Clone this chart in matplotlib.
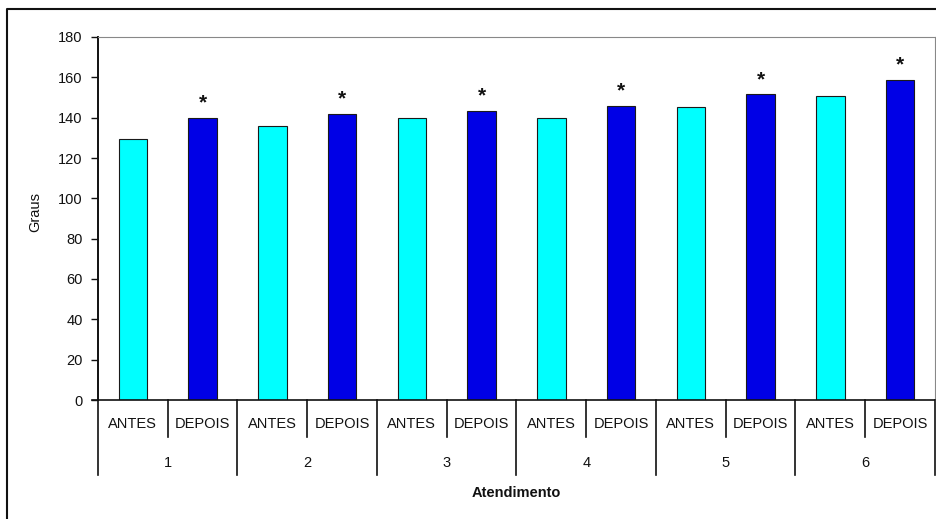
import matplotlib
matplotlib.use("Agg")
import matplotlib.pyplot as plt
import matplotlib.transforms as mtransforms
from matplotlib.lines import Line2D

plt.rcParams['font.family'] = ['Liberation Sans', 'DejaVu Sans']

# data
atendimentos = ['1', '2', '3', '4', '5', '6']
momentos = ['ANTES', 'DEPOIS']
antes = [129.5, 136, 140, 140, 145.5, 150.5]
depois = [140, 142, 143.5, 146, 151.5, 158.5]
significativo = [True, True, True, True, True, True]

W, H = 937, 519
fig = plt.figure(figsize=(W / 100, H / 100), dpi=100)
ax = fig.add_axes([98 / W, 1 - 400 / H, (935 - 98) / W, 363 / H])

# bars: alternating antes / depois
pos_antes = [2 * i for i in range(len(atendimentos))]
pos_depois = [2 * i + 1 for i in range(len(atendimentos))]
ax.bar(pos_antes, antes, width=0.41, color='#00FFFF', edgecolor='#1a1a1a', linewidth=0.8, zorder=2)
ax.bar(pos_depois, depois, width=0.41, color='#0000E6', edgecolor='#1a1a1a', linewidth=0.8, zorder=2)

for p, v, s in zip(pos_depois, depois, significativo):
    if s:
        ax.annotate('*', (p, v), xytext=(0, 4), textcoords='offset points',
                    ha='center', va='bottom', fontsize=15, fontweight='bold', color='#111111')

ax.set_xlim(-0.5, 2 * len(atendimentos) - 0.5)
ax.set_ylim(0, 180)
ax.set_yticks(range(0, 181, 20))
ax.tick_params(axis='y', direction='out', length=5, width=1, labelsize=10.5, colors='#111111', pad=6)
ax.set_xticks([])

ax.spines['left'].set_color('#111111')
ax.spines['bottom'].set_color('#111111')
ax.spines['left'].set_linewidth(1.2)
ax.spines['bottom'].set_linewidth(1.2)
ax.spines['top'].set_color('#888888')
ax.spines['right'].set_color('#888888')

# multi-level category axis
trans = mtransforms.blended_transform_factory(ax.transData, ax.transAxes)
ax_h = 363.0
n = 2 * len(atendimentos)
for k in range(n + 1):
    x = k - 0.5
    depth = 75 if k % 2 == 0 else 37
    ax.add_line(Line2D([x, x], [0, -depth / ax_h], transform=trans, color='#111111',
                       linewidth=1.2, clip_on=False))
ax.add_line(Line2D([-0.5, -0.5], [0, 1], transform=trans, color='#111111', linewidth=1.2, clip_on=False))
ax.add_line(Line2D([-0.58, -0.5], [0, 0], transform=trans, color='#111111', linewidth=1.2, clip_on=False))

for i in range(n):
    ax.text(i, -24 / ax_h, momentos[i % 2], transform=trans, ha='center', va='center',
            fontsize=10.5, color='#111111')
for i, lab in enumerate(atendimentos):
    ax.text(2 * i + 0.5, -63 / ax_h, lab, transform=trans, ha='center', va='center',
            fontsize=10.5, color='#111111')

fig.text((98 + 935) / 2 / W, 1 - 493 / H, 'Atendimento', ha='center', va='center',
         fontsize=10.5, fontweight='bold', color='#111111')
fig.text(35 / W, 1 - 212 / H, 'Graus', ha='center', va='center', rotation=90,
         fontsize=10.5, color='#111111')

# outer chart frame (left and top edges visible)
fig.add_artist(Line2D([7 / W, 7 / W, 1.0], [0, 1 - 9 / H, 1 - 9 / H], transform=fig.transFigure,
                      color='#111111', linewidth=1.5))

fig.savefig('out.png', dpi=100)
